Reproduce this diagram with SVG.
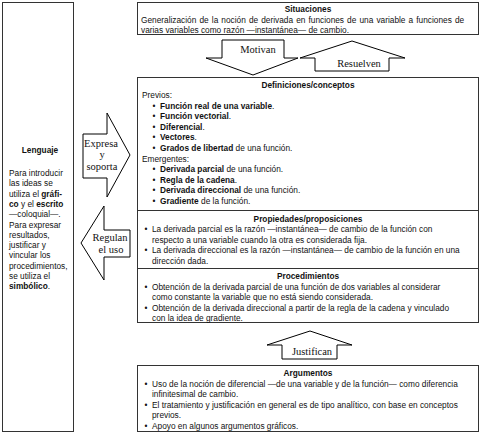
<svg xmlns="http://www.w3.org/2000/svg" width="481" height="434" viewBox="0 0 481 434">
<style>
.bx{fill:#fff;stroke:#333;stroke-width:1}
.ln{stroke:#333;stroke-width:1}
.ar{fill:#fff;stroke:#000;stroke-width:1;stroke-linejoin:miter}
.t{font-family:"Liberation Sans",Arial,sans-serif;font-size:8.3px;fill:#111}
.h{font-weight:bold;text-anchor:middle}
.b{font-weight:bold}
.c{text-anchor:middle}
.s{font-family:"Liberation Serif","Times New Roman",serif;font-size:10.5px;fill:#111;text-anchor:middle}
</style>
<rect width="481" height="434" fill="#fff"/>

<g id="lenguaje">
<rect class="bx" x="2.5" y="2.5" width="71" height="429"/>
<text class="t h" x="40" y="153">Lenguaje</text>
<text class="t" x="9" y="176">Para introducir</text>
<text class="t" x="9" y="186.3">las ideas se</text>
<text class="t" x="9" y="196.6">utiliza el <tspan class="b">gráfi-</tspan></text>
<text class="t" x="9" y="206.9"><tspan class="b">co</tspan> y el <tspan class="b">escrito</tspan></text>
<text class="t" x="9" y="217.2">—coloquial—.</text>
<text class="t" x="9" y="227.5">Para expresar</text>
<text class="t" x="9" y="237.8">resultados,</text>
<text class="t" x="9" y="248.1">justificar y</text>
<text class="t" x="9" y="258.4">vincular los</text>
<text class="t" x="9" y="268.7">procedimientos,</text>
<text class="t" x="9" y="279">se utiliza el</text>
<text class="t" x="9" y="289.3"><tspan class="b">simbólico</tspan>.</text>
</g>

<g id="situaciones">
<rect class="bx" x="137.5" y="2.5" width="341" height="32"/>
<text class="t h" x="308" y="12">Situaciones</text>
<text class="t" x="141" y="22.5" word-spacing="0.8">Generalización de la noción de derivada en funciones de una variable a funciones de</text>
<text class="t" x="141" y="32.5">varias variables como razón —instantánea— de cambio.</text>
</g>

<g id="definiciones">
<rect class="bx" x="137.5" y="77.5" width="341" height="245"/>
<text class="t h" x="308" y="87.5">Definiciones/conceptos</text>
<text class="t" x="142" y="98">Previos:</text>
<text class="t c" x="154" y="108.6">•</text><text class="t" x="160" y="108.6"><tspan class="b">Función real de una variable</tspan>.</text>
<text class="t c" x="154" y="119.2">•</text><text class="t" x="160" y="119.2"><tspan class="b">Función vectorial</tspan>.</text>
<text class="t c" x="154" y="129.8">•</text><text class="t" x="160" y="129.8"><tspan class="b">Diferencial</tspan>.</text>
<text class="t c" x="154" y="140.4">•</text><text class="t" x="160" y="140.4"><tspan class="b">Vectores</tspan>.</text>
<text class="t c" x="154" y="151">•</text><text class="t" x="160" y="151"><tspan class="b">Grados de libertad</tspan> de una función.</text>
<text class="t" x="142" y="161.6">Emergentes:</text>
<text class="t c" x="154" y="172.2">•</text><text class="t" x="160" y="172.2"><tspan class="b">Derivada parcial</tspan> de una función.</text>
<text class="t c" x="154" y="182.8">•</text><text class="t" x="160" y="182.8"><tspan class="b">Regla de la cadena</tspan>.</text>
<text class="t c" x="154" y="193.4">•</text><text class="t" x="160" y="193.4"><tspan class="b">Derivada direccional</tspan> de una función.</text>
<text class="t c" x="154" y="204">•</text><text class="t" x="160" y="204"><tspan class="b">Gradiente</tspan> de la función.</text>
</g>

<g id="propiedades">
<line class="ln" x1="137.5" y1="210.5" x2="478.5" y2="210.5"/>
<text class="t h" x="308" y="221.5">Propiedades/proposiciones</text>
<text class="t c" x="146" y="232">•</text><text class="t" x="152" y="232">La derivada parcial es la razón —instantánea— de cambio de la función con</text>
<text class="t" x="152" y="242.5">respecto a una variable cuando la otra es considerada fija.</text>
<text class="t c" x="146" y="253">•</text><text class="t" x="152" y="253">La derivada direccional es la razón —instantánea— de cambio de la función en una</text>
<text class="t" x="152" y="263.5">dirección dada.</text>
</g>

<g id="procedimientos">
<line class="ln" x1="137.5" y1="268.5" x2="478.5" y2="268.5"/>
<text class="t h" x="308" y="279">Procedimientos</text>
<text class="t c" x="146" y="289.5">•</text><text class="t" x="152" y="289.5">Obtención de la derivada parcial de una función de dos variables al considerar</text>
<text class="t" x="152" y="300">como constante la variable que no está siendo considerada.</text>
<text class="t c" x="146" y="310.5">•</text><text class="t" x="152" y="310.5">Obtención de la derivada direccional a partir de la regla de la cadena y vinculado</text>
<text class="t" x="152" y="321">con la idea de gradiente.</text>
</g>

<g id="argumentos">
<rect class="bx" x="137.5" y="365.5" width="341" height="66"/>
<text class="t h" x="308" y="376">Argumentos</text>
<text class="t c" x="146" y="386.5">•</text><text class="t" x="152" y="386.5">Uso de la noción de diferencial —de una variable y de la función— como diferencia</text>
<text class="t" x="152" y="397">infinitesimal de cambio.</text>
<text class="t c" x="146" y="407.5">•</text><text class="t" x="152" y="407.5">El tratamiento y justificación en general es de tipo analítico, con base en conceptos</text>
<text class="t" x="152" y="418">previos.</text>
<text class="t c" x="146" y="428.5">•</text><text class="t" x="152" y="428.5">Apoyo en algunos argumentos gráficos.</text>
</g>

<g id="connectors">
<g id="motivan">
<polygon class="ar" points="222,40 284,40 284,58 298,58 253,75 206,58 222,58"/>
<text class="s" x="258" y="53">Motivan</text>
</g>
<g id="resuelven">
<polygon class="ar" points="352,41 405,58 389,58 389,71 315,71 315,58 300,58"/>
<text class="s" x="359" y="67">Resuelven</text>
</g>
<g id="justifican">
<polygon class="ar" points="310,331 352,345 337,345 337,359 282,359 282,345 267,345"/>
<text class="s" x="312" y="355">Justifican</text>
</g>
<g id="expresa">
<polygon class="ar" points="83,134 107,134 107,113 130,155 107,197 107,178 83,178"/>
<text class="s" x="101" y="146.5">Expresa</text>
<text class="s" x="102" y="158">y</text>
<text class="s" x="102" y="169.5">soporta</text>
</g>
<g id="regulan">
<polygon class="ar" points="130,230 104,230 104,206 81,243 104,280 104,257 130,257"/>
<text class="s" x="110" y="240.5">Regulan</text>
<text class="s" x="111" y="252.5">el uso</text>
</g>
</g>
</svg>
